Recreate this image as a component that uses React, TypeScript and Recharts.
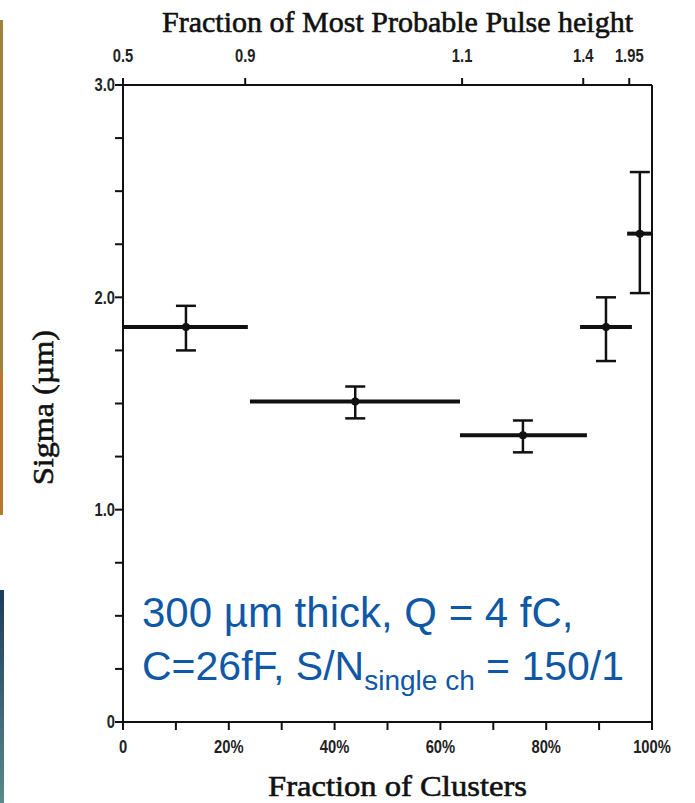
import React from 'react';
import { ScatterChart, Scatter, XAxis, YAxis, ErrorBar, ReferenceLine } from 'recharts';

// measured points (fraction of clusters in %, sigma in µm)
const clusterFraction = [11.9, 43.9, 75.6, 91.3, 97.7];
const binStart = [0, 24.0, 63.7, 86.4, 95.3];
const binEnd = [23.6, 63.7, 87.7, 96.2, 100];
const sigma = [1.86, 1.51, 1.35, 1.86, 2.3];
const sigmaLow = [1.75, 1.43, 1.27, 1.7, 2.02];
const sigmaHigh = [1.96, 1.58, 1.42, 2.0, 2.59];

const clusterTicks = [0, 10, 20, 30, 40, 50, 60, 70, 80, 90, 100];
const clusterTickLabels = ['0', '', '20%', '', '40%', '', '60%', '', '80%', '', '100%'];
const pulseTickPos = [0, 23.1, 64.1, 87.0, 95.7];
const pulseTickLabels = ['0.5', '0.9', '1.1', '1.4', '1.95'];
const sigmaTicks = [0, 0.25, 0.5, 0.75, 1, 1.25, 1.5, 1.75, 2, 2.25, 2.5, 2.75, 3];
const sigmaTickLabels = ['0', '', '', '', '1.0', '', '', '', '2.0', '', '', '', '3.0'];
const sigmaMax = 3;

const data = clusterFraction.map((x, i) => ({
  x,
  y: sigma[i],
  xErr: [x - binStart[i], binEnd[i] - x],
  yErr: [sigma[i] - sigmaLow[i], sigmaHigh[i] - sigma[i]],
}));

const ink = '#111';
const blue = '#0f58a6';
const sans = '"Liberation Sans", Arial, sans-serif';
const serif = '"Liberation Serif", "Times New Roman", serif';
const axisStyle = { stroke: ink, strokeWidth: 2 };

// scanned tick labels are tall and narrow -> squeeze them horizontally
const makeTick = (ticks: number[], labels: string[], dy: string) => (props: any) => {
  const { x, y, payload, textAnchor } = props;
  const label = labels[ticks.indexOf(payload.value)] ?? '';
  if (!label) return <g />;
  return (
    <text
      transform={`translate(${x} ${y}) scale(0.82 1)`}
      textAnchor={textAnchor}
      dy={dy}
      fontFamily={sans}
      fontSize={18}
      fontWeight={700}
      fill="#222"
    >
      {label}
    </text>
  );
};

const BottomTick = makeTick(clusterTicks, clusterTickLabels, '0.71em');
const TopTick = makeTick(pulseTickPos, pulseTickLabels, '0');
const LeftTick = makeTick(sigmaTicks, sigmaTickLabels, '0.36em');

const Dot = (p: any) => <circle cx={p.cx} cy={p.cy} r={4} fill={ink} />;
const Nothing = () => <g />;

const App = () => {
  return (
    <div style={{ position: 'absolute', left: 0, top: 0, width: 695, height: 803, background: '#fff' }}>
      {/* slide edge remnants */}
      <div style={{ position: 'absolute', left: 0, top: 20, width: 3, height: 352, background: '#a0823e' }} />
      <div style={{ position: 'absolute', left: 0, top: 372, width: 3, height: 143, background: '#b8772c' }} />
      <div style={{ position: 'absolute', left: 0, top: 590, width: 4, height: 213, background: 'linear-gradient(#1b3c5c, #5a8a8a)' }} />

      <ScatterChart width={695} height={803} margin={{ top: 45, right: 33, bottom: 41, left: 63 }}>
        <XAxis
          xAxisId="bottom"
          dataKey="x"
          type="number"
          domain={[0, 100]}
          ticks={clusterTicks}
          interval={0}
          tick={BottomTick}
          tickSize={8}
          tickMargin={10}
          height={40}
          axisLine={axisStyle}
          tickLine={axisStyle}
        />
        <XAxis
          xAxisId="top"
          dataKey="x"
          orientation="top"
          type="number"
          domain={[0, 100]}
          ticks={pulseTickPos}
          interval={0}
          tick={TopTick}
          tickSize={7}
          tickMargin={16}
          height={40}
          axisLine={axisStyle}
          tickLine={axisStyle}
        />
        <YAxis
          yAxisId="left"
          dataKey="y"
          type="number"
          domain={[0, sigmaMax]}
          ticks={sigmaTicks}
          interval={0}
          tick={LeftTick}
          tickSize={8}
          tickMargin={0}
          width={60}
          axisLine={axisStyle}
          tickLine={axisStyle}
        />
        <YAxis
          yAxisId="right"
          dataKey="y"
          orientation="right"
          type="number"
          domain={[0, sigmaMax]}
          tick={false}
          tickLine={false}
          width={10}
          axisLine={axisStyle}
        />
        {/* top frame edge */}
        <ReferenceLine xAxisId="bottom" yAxisId="left" y={sigmaMax} stroke={ink} strokeWidth={2} />
        {/* invisible series so the top / right frame axes get drawn */}
        <Scatter data={data} xAxisId="top" yAxisId="right" shape={Nothing} isAnimationActive={false} />
        <Scatter data={data} xAxisId="bottom" yAxisId="left" fill={ink} shape={Dot} isAnimationActive={false}>
          <ErrorBar dataKey="xErr" direction="x" width={0} stroke={ink} strokeWidth={4} isAnimationActive={false} />
          <ErrorBar dataKey="yErr" direction="y" width={10} stroke={ink} strokeWidth={2.5} isAnimationActive={false} />
        </Scatter>
      </ScatterChart>

      <svg width={695} height={803} style={{ position: 'absolute', left: 0, top: 0, pointerEvents: 'none' }}>
        <g fontFamily={serif} fill={ink} stroke={ink} strokeWidth={0.6}>
          <text x={162} y={32} fontSize={30} textLength={471} lengthAdjust="spacingAndGlyphs">
            Fraction of Most Probable Pulse height
          </text>
          <text x={268} y={796} fontSize={30} textLength={259} lengthAdjust="spacingAndGlyphs">
            Fraction of Clusters
          </text>
          <text
            x={0}
            y={0}
            transform="translate(53,485) rotate(-90)"
            fontSize={29}
            textLength={155}
            lengthAdjust="spacingAndGlyphs"
          >
            Sigma (µm)
          </text>
        </g>
        <text x={142} y={627} fontFamily={sans} fontSize={42} fill={blue}>
          300 µm thick, Q = 4 fC,
        </text>
        <text x={142} y={680} fontFamily={sans} fontSize={41} fill={blue}>
          C=26fF, S/N
          <tspan fontSize={28} dy={10}>single ch</tspan>
          <tspan dy={-10}> = 150/1</tspan>
        </text>
      </svg>
    </div>
  );
};

export default App;
